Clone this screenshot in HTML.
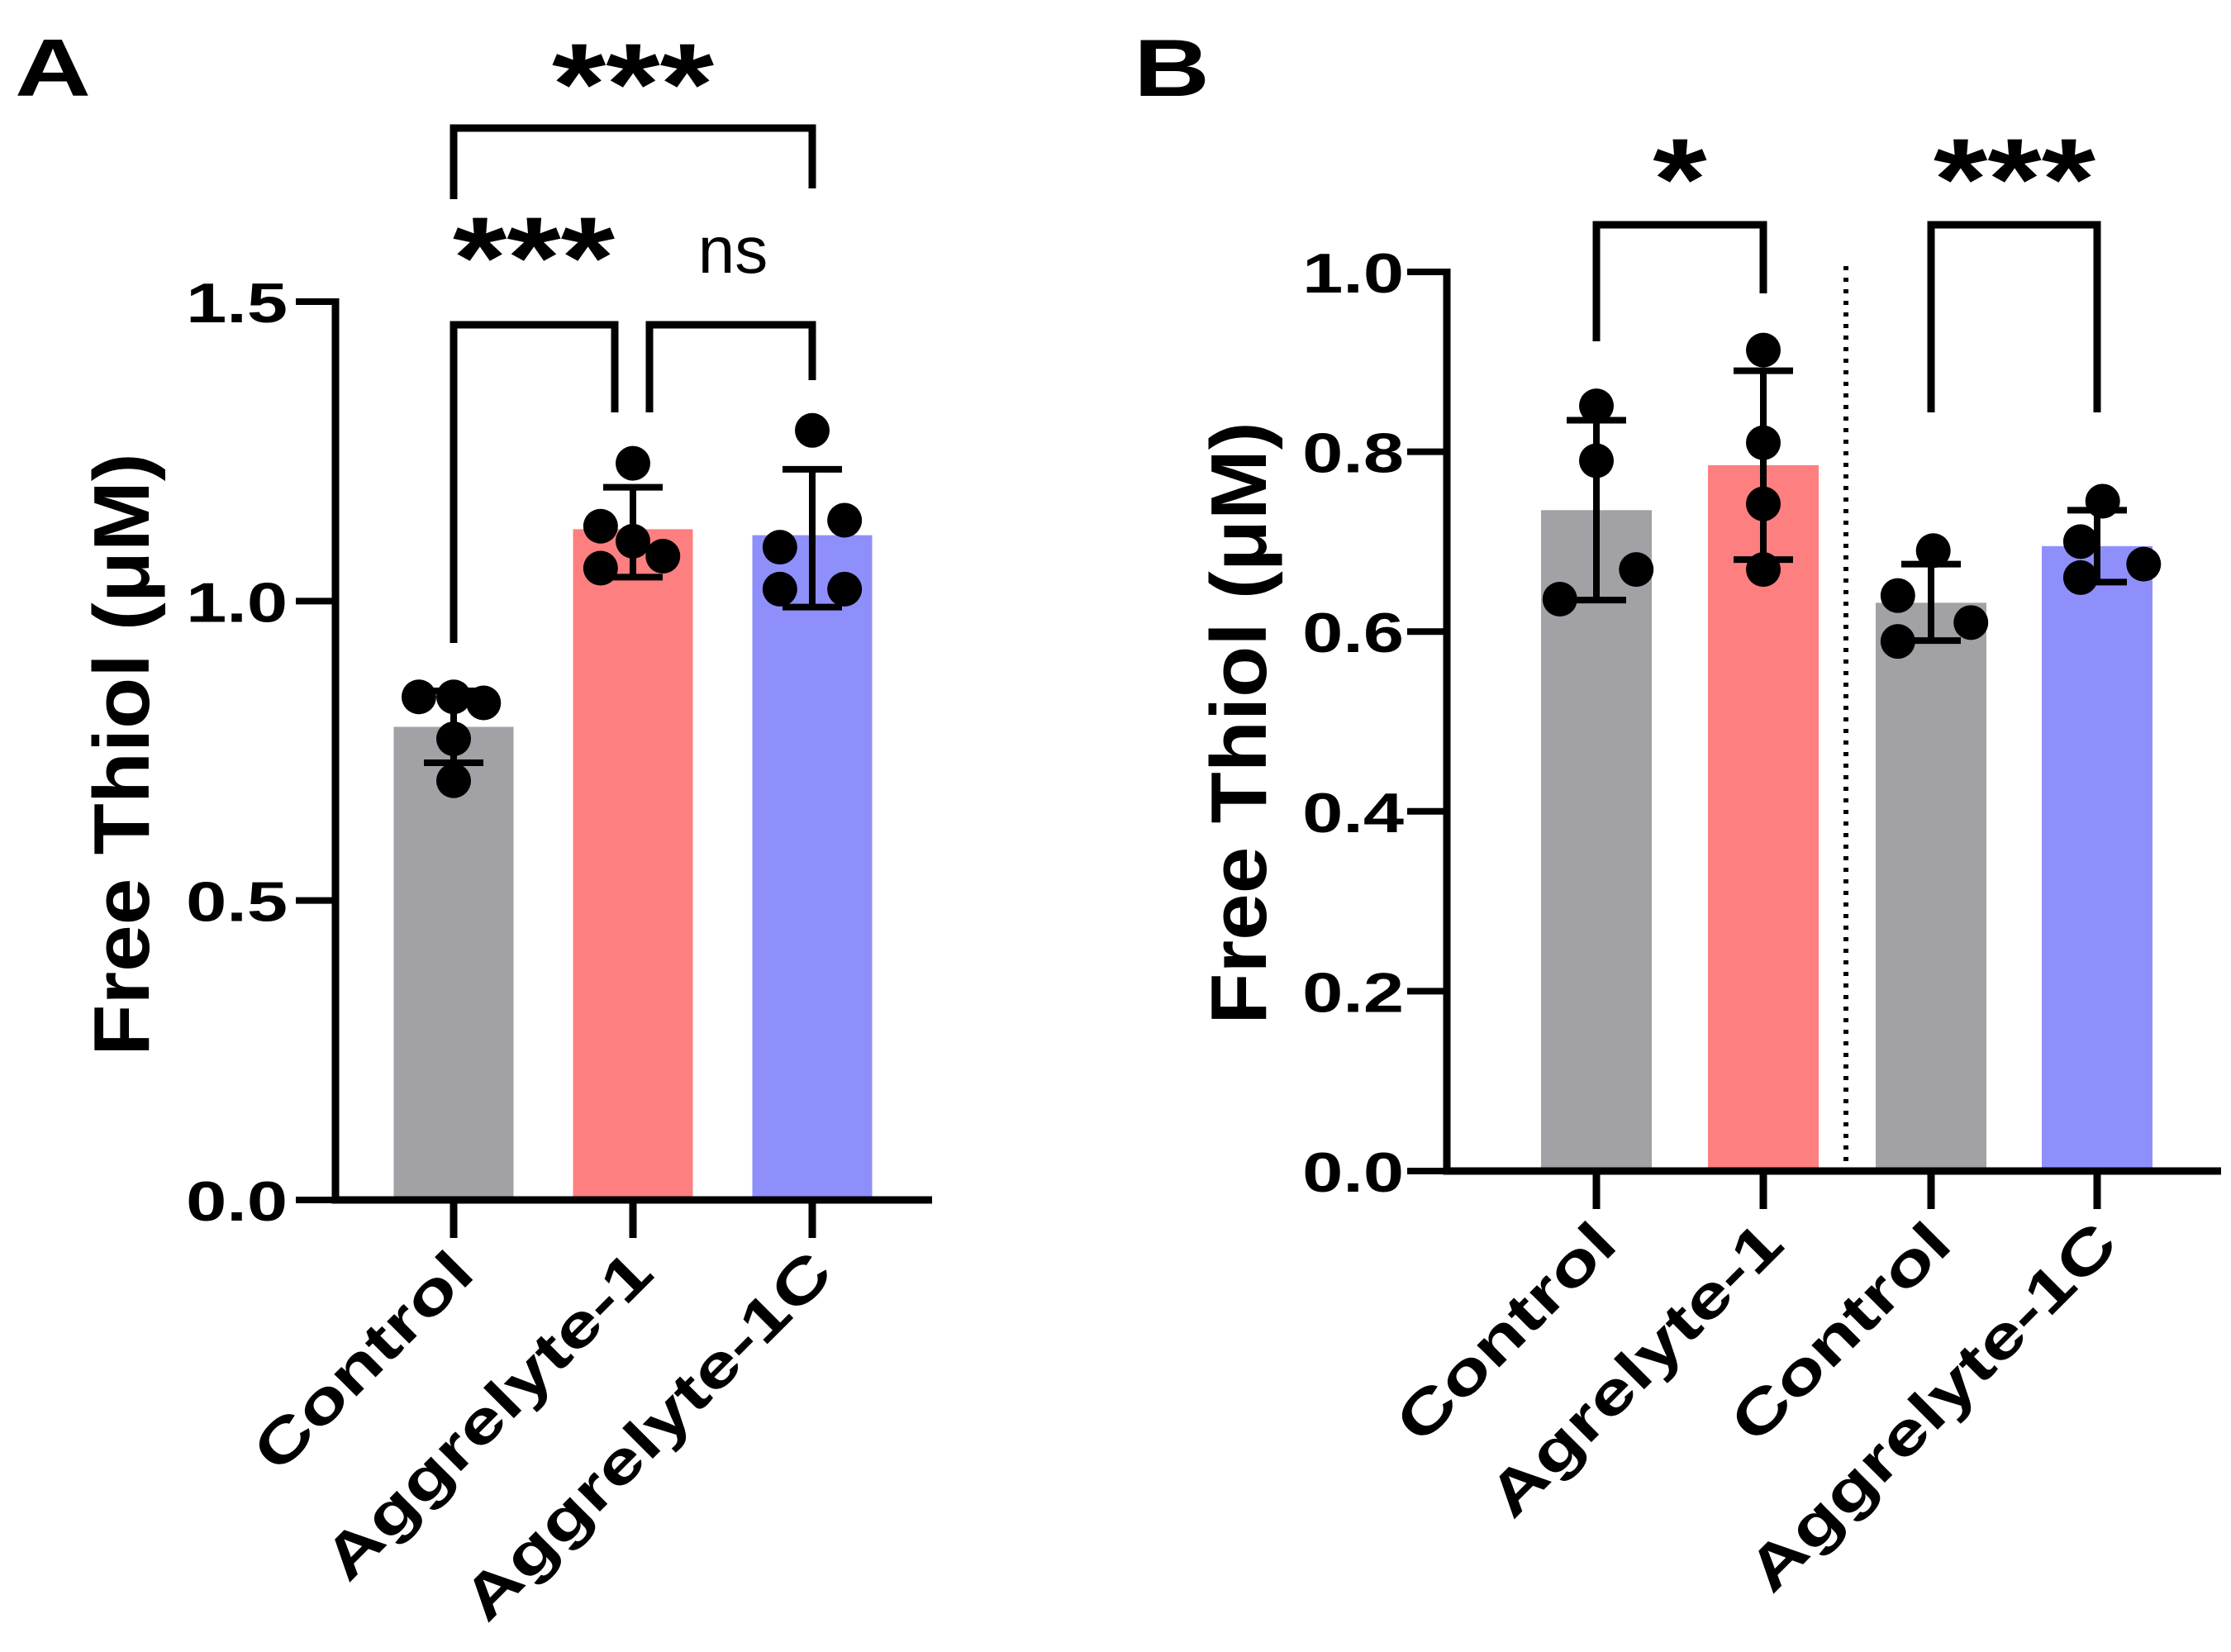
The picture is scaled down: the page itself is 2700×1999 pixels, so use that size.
<!DOCTYPE html>
<html><head><meta charset="utf-8"><style>
html,body{margin:0;padding:0;background:#fff;}
svg{display:block;font-family:"Liberation Sans",Arial,sans-serif;font-weight:bold;}
</style></head><body>
<svg id="fig" width="2700" height="1999" viewBox="0 0 2700 1999" xmlns="http://www.w3.org/2000/svg">
<text class="wide" data-f="1.3" x="18" y="116" font-size="98">A</text>
<text class="wide" data-f="1.3" x="1372" y="116" font-size="98">B</text>
<g id="pa"></g>
<g id="pb"></g>
</svg>
<script>
const aCats=["Control","Aggrelyte-1","Aggrelyte-1C"];
const aMeans=[0.79,1.12,1.11];
const aLo=[0.73,1.04,0.99];
const aHi=[0.85,1.19,1.22];
const aPts=[[0.84,0.84,0.83,0.77,0.70],[1.23,1.125,1.10,1.075,1.055],[1.285,1.135,1.09,1.02,1.02]];
const aTicks=[0,0.5,1.0,1.5];
const aTickLabels=["0.0","0.5","1.0","1.5"];
const bCats=["Control","Agrelyte-1","Control","Aggrelyte-1C"];
const bMeans=[0.735,0.785,0.632,0.695];
const bLo=[0.635,0.68,0.59,0.655];
const bHi=[0.835,0.89,0.675,0.735];
const bPts=[[0.851,0.79,0.669,0.636],[0.913,0.81,0.742,0.669],[0.69,0.64,0.61,0.589],[0.745,0.70,0.675,0.66]];
const bTicks=[0,0.2,0.4,0.6,0.8,1.0];
const bTickLabels=["0.0","0.2","0.4","0.6","0.8","1.0"];
const colorsA=["#a2a1a6","#fd7f7f","#8f8ffc"];
const colorsB=["#a2a1a6","#fd7f7f","#a2a1a6","#8f8ffc"];
const NS="http://www.w3.org/2000/svg";
function mk(p,t,a){const e=document.createElementNS(NS,t);for(const k in a)e.setAttribute(k,a[k]);p.appendChild(e);return e;}
const ptOffA=[[-0.29,0,0.25,0,0],[0,-0.27,0,0.25,-0.27],[0,0.27,-0.27,-0.27,0.27]];
const ptOffB=[[0,0,0.36,-0.33],[0,0,0,0],[0.02,-0.3,0.36,-0.3],[0.05,-0.15,0.42,-0.15]];
function panel(g,o){
  const y=v=>o.y0-(v/o.ymax)*(o.y0-o.ytop);
  const x=i=>o.cx[i];
  o.cats.forEach((c,i)=>{
    const r=mk(g,'rect',{x:x(i)-o.bw/2,y:y(o.means[i]),width:o.bw,height:o.y0-y(o.means[i]),fill:o.colors[i]});
    
    
  });
  o.cats.forEach((c,i)=>{
    const e=mk(g,'path',{d:`M${x(i)} ${y(o.lo[i])}V${y(o.hi[i])}M${x(i)-36} ${y(o.hi[i])}h72M${x(i)-36} ${y(o.lo[i])}h72`,stroke:'#000','stroke-width':8,fill:'none'});
    
    
    o.pts[i].forEach((v,j)=>{
      const d=mk(g,'circle',{cx:x(i)+o.off[i][j]*o.bw,cy:y(v),r:21,fill:'#000'});
      
      
    });
  });
  const ax=mk(g,'path',{d:`M${o.ax} ${o.ytop-4}V${o.y0}H${o.xend}`,stroke:'#000','stroke-width':9,fill:'none'});
  
  
  o.ticks.forEach((t,i)=>{
    mk(g,'line',{x1:o.ax-48,x2:o.ax,y1:y(t),y2:y(t),stroke:'#000','stroke-width':8});
    const tl=mk(g,'text',{x:o.ax-o.lg,y:y(t)+25,'font-size':68,'text-anchor':'end',class:'wide','data-f':'1.3'});
    tl.textContent=o.tickLabels[i];
    
    
  });
  o.cats.forEach((c,i)=>{
    mk(g,'line',{x1:x(i),x2:x(i),y1:o.y0,y2:o.y0+46,stroke:'#000','stroke-width':9});
    const t=mk(g,'text',{transform:`translate(${x(i)+28},${o.y0+92}) rotate(-45)`,'font-size':72,'text-anchor':'end',class:'wide','data-f':'1.33'});
    t.textContent=c;
    
    
  });
  const yt=mk(g,'text',{transform:`translate(${o.titleX},${o.titleY}) rotate(-90)`,'font-size':96,'text-anchor':'middle',class:'wide','data-f':'1.06'});
  yt.textContent='Free Thiol (μM)';
  
  
}
const pa=document.getElementById('pa'),pb=document.getElementById('pb');
panel(pa,{cats:aCats,means:aMeans,lo:aLo,hi:aHi,pts:aPts,ticks:aTicks,tickLabels:aTickLabels,colors:colorsA,off:ptOffA,lg:58,
  y0:1452,ytop:365,ymax:1.5,ax:406,xend:1128,cx:[549,766,983],bw:145,titleX:180,titleY:913});
panel(pb,{cats:bCats,means:bMeans,lo:bLo,hi:bHi,pts:bPts,ticks:bTicks,tickLabels:bTickLabels,colors:colorsB,off:ptOffB,lg:52,
  y0:1417,ytop:329,ymax:1.0,ax:1751,xend:2688,cx:[1932,2134,2337,2538],bw:134,titleX:1532,titleY:875});
function br(g,x1,x2,yy,l1,l2,label,lx,ly,fs,name){
  const p=mk(g,'path',{d:`M${x1} ${l1}V${yy}H${x2}V${l2}`,stroke:'#000','stroke-width':9,fill:'none'});
  
  
  const t=mk(g,'text',{x:lx,y:ly,'font-size':fs,'text-anchor':'middle'});
  t.textContent=label;
  if(label==='ns')t.setAttribute('font-weight','normal');
  else {t.setAttribute('class','wide');t.setAttribute('data-f','1.2');}
  
  
}
br(pa,549,983,155,241,228,'***',766,150,140,'bracket-control-vs-1c');
br(pa,549,744,393,778,499,'***',646,360,140,'bracket-control-vs-1');
br(pa,786,983,393,499,460,'ns',887,330,80,'bracket-1-vs-1c');
br(pb,1932,2134,272,413,355,'*',2033,265,140,'bracket-b-left');
br(pb,2337,2538,272,499,499,'***',2438,265,140,'bracket-b-right');
const dl=mk(pb,'line',{x1:2234,x2:2234,y1:322,y2:1420,stroke:'#000','stroke-width':6,'stroke-dasharray':'5 9'});


document.querySelectorAll('text.wide').forEach(t=>{
  const f=parseFloat(t.getAttribute('data-f'));
  const L=t.getComputedTextLength();
  t.setAttribute('textLength',(L*f).toFixed(1));
  t.setAttribute('lengthAdjust','spacingAndGlyphs');
});
</script>
</body></html>
